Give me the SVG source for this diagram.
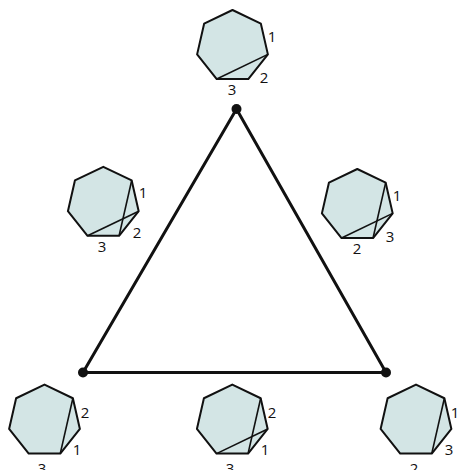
<svg xmlns="http://www.w3.org/2000/svg" xmlns:xlink="http://www.w3.org/1999/xlink" width="457" height="470" viewBox="0 0 457 470">
<style>
.hep{fill:#d3e5e5;stroke:#111;stroke-width:2;stroke-linejoin:round}
.diag{stroke:#111;stroke-width:1.6;fill:none}
.lbl{font-family:"Open Sans","Liberation Sans",sans-serif;font-size:15px;fill:#111;text-anchor:middle}
.edge{stroke:#111;stroke-width:3;fill:none;stroke-linecap:round}
.dot{fill:#111}
</style>
<defs>
<polygon id="hp" class="hep" points="0,-36.3 28.38,-22.63 35.39,8.08 15.75,32.71 -15.75,32.71 -35.39,8.08 -28.38,-22.63"/>
</defs>
<g id="connectors">
<polygon class="edge" points="236.5,109 83,372.5 386,372.5"/>
</g>
<g id="vertex-top"><circle class="dot" cx="236.5" cy="109" r="5"/></g>
<g id="vertex-left"><circle class="dot" cx="83" cy="372.5" r="5"/></g>
<g id="vertex-right"><circle class="dot" cx="386" cy="372.5" r="5"/></g>
<g id="hep-top" transform="translate(232.5,46.3)">
<use xlink:href="#hp" href="#hp"/>
<line class="diag" x1="35.39" y1="8.08" x2="-15.75" y2="32.71"/>
</g>
<g id="hep-top-labels">
<text class="lbl" x="272" y="42">1</text>
<text class="lbl" x="264" y="83">2</text>
<text class="lbl" x="232" y="95">3</text>
</g>
<g id="hep-midleft" transform="translate(103.3,203.1)">
<use xlink:href="#hp" href="#hp"/>
<line class="diag" x1="28.38" y1="-22.63" x2="15.75" y2="32.71"/>
<line class="diag" x1="35.39" y1="8.08" x2="-15.75" y2="32.71"/>
</g>
<g id="hep-midleft-labels">
<text class="lbl" x="143" y="198">1</text>
<text class="lbl" x="137" y="238">2</text>
<text class="lbl" x="102" y="252">3</text>
</g>
<g id="hep-midright" transform="translate(357.3,205.3)">
<use xlink:href="#hp" href="#hp"/>
<line class="diag" x1="28.38" y1="-22.63" x2="15.75" y2="32.71"/>
<line class="diag" x1="35.39" y1="8.08" x2="-15.75" y2="32.71"/>
</g>
<g id="hep-midright-labels">
<text class="lbl" x="397" y="201">1</text>
<text class="lbl" x="390" y="242">3</text>
<text class="lbl" x="357" y="254">2</text>
</g>
<g id="hep-botleft" transform="translate(44.5,420.9)">
<use xlink:href="#hp" href="#hp"/>
<line class="diag" x1="28.38" y1="-22.63" x2="15.75" y2="32.71"/>
</g>
<g id="hep-botleft-labels">
<text class="lbl" x="85" y="418">2</text>
<text class="lbl" x="77" y="455">1</text>
<text class="lbl" x="42" y="474">3</text>
</g>
<g id="hep-botmid" transform="translate(232.3,420.9)">
<use xlink:href="#hp" href="#hp"/>
<line class="diag" x1="28.38" y1="-22.63" x2="15.75" y2="32.71"/>
<line class="diag" x1="35.39" y1="8.08" x2="-15.75" y2="32.71"/>
</g>
<g id="hep-botmid-labels">
<text class="lbl" x="272" y="418">2</text>
<text class="lbl" x="265" y="455">1</text>
<text class="lbl" x="230" y="474">3</text>
</g>
<g id="hep-botright" transform="translate(416,420.9)">
<use xlink:href="#hp" href="#hp"/>
<line class="diag" x1="28.38" y1="-22.63" x2="15.75" y2="32.71"/>
</g>
<g id="hep-botright-labels">
<text class="lbl" x="455" y="418">1</text>
<text class="lbl" x="449" y="455">3</text>
<text class="lbl" x="414" y="474">2</text>
</g>
</svg>
